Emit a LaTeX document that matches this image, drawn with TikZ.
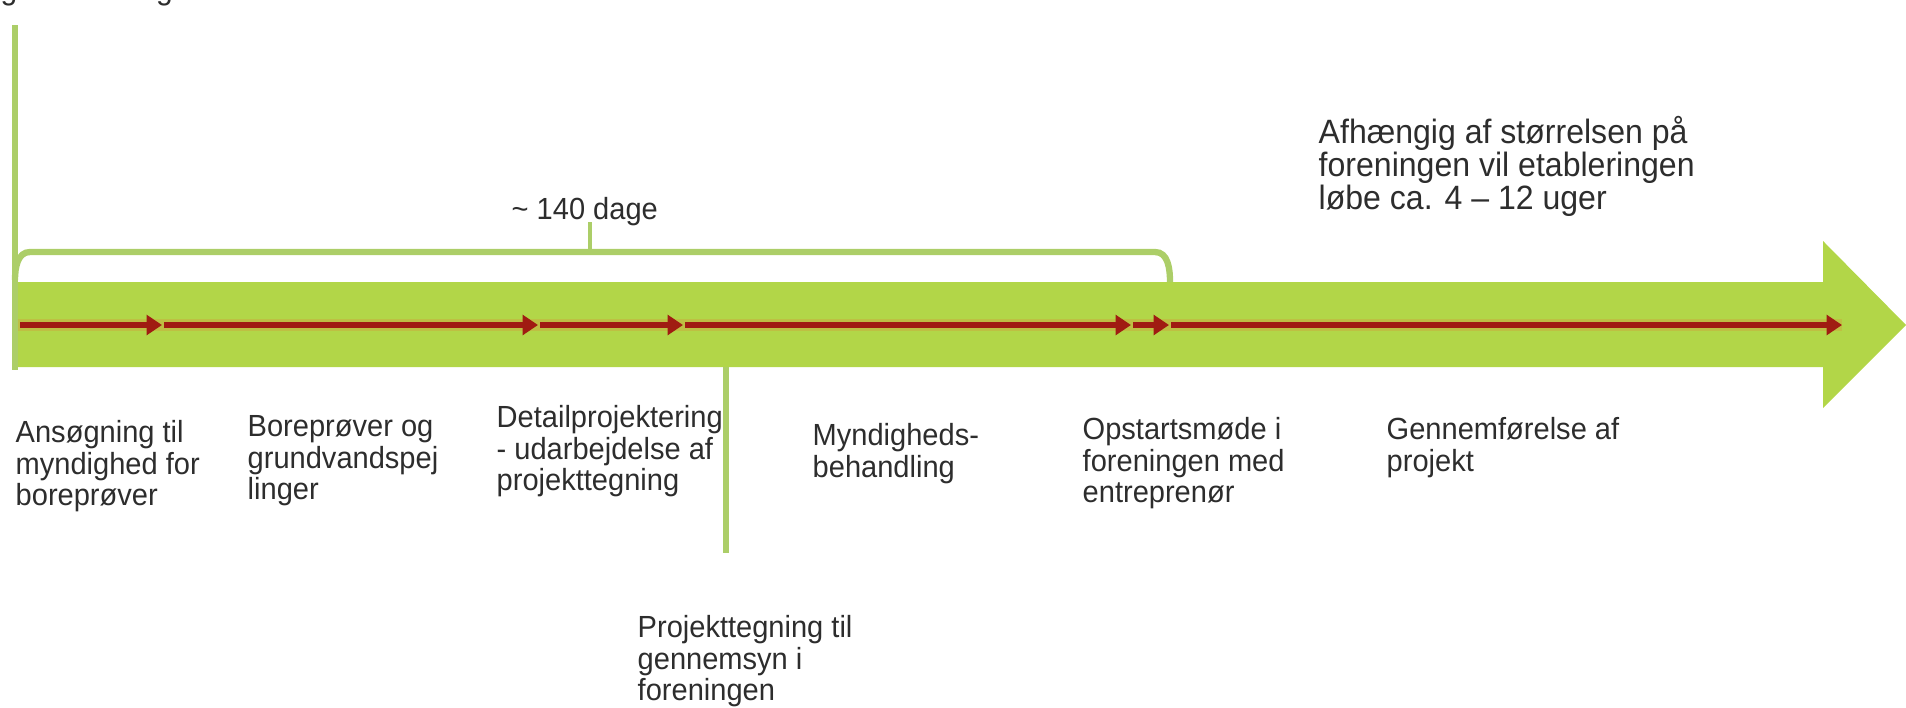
\documentclass[tikz,border=0pt]{standalone}
\usepackage{fontspec}
\setmainfont{Liberation Sans}[FakeStretch=0.95]
\usetikzlibrary{arrows.meta}
\definecolor{bargreen}{RGB}{178,214,72}
\definecolor{linegreen}{RGB}{172,206,104}
\definecolor{darkred}{RGB}{160,28,18}
\definecolor{glow}{RGB}{214,150,60}
\definecolor{txt}{RGB}{45,45,45}
\tikzset{bar/.style={fill=bargreen,draw=none},
 guide/.style={draw=linegreen,line width=1.5pt},
 redline/.style={draw=darkred,line width=1.8pt,-{Triangle[length=4.4pt,width=5.6pt]},shorten <=0.6pt},
 lbl/.style={anchor=north west,align=left,inner sep=0pt,text=txt,
   font=\fontsize{8.7}{8.9}\selectfont},
 biglbl/.style={lbl,font=\fontsize{9.6}{9.4}\selectfont},
 }

\begin{document}
\begin{tikzpicture}
    \useasboundingbox (0,0) rectangle (19.06,-7.07);
    % the big arrow
    \path[bar] (0.15,-2.82) -- (18.23,-2.82) -- (18.23,-2.41) -- (19.06,-3.25)
        -- (18.23,-4.08) -- (18.23,-3.67) -- (0.15,-3.67) -- cycle;
    % start line and bracket
    \coordinate (top) at (0.15,-0.25);
    \coordinate (foot) at (0.15,-3.70);
    \draw[guide] (top) -- (foot);
    \coordinate (brL) at (0.15,-2.80);
    \coordinate (brR) at (11.70,-2.82);
    \coordinate (brM) at (5.90,-2.52);
    \coordinate (brTip) at (5.90,-2.22);
    \draw[guide,line width=1.8pt] (brL) to[out=90,in=180] (0.30,-2.52) -- (11.55,-2.52)
        to[out=0,in=90] (brR);
    \draw[guide,line width=1pt] (brM) -- (brTip);
    % review line
    \coordinate (revTop) at (7.26,-3.67);
    \coordinate (revBot) at (7.26,-5.53);
    \draw[guide] (revTop) -- (revBot);
    % milestones on the red line
    \coordinate (p0) at (0.18,-3.25);
    \coordinate (p1) at (1.62,-3.25);
    \coordinate (p2) at (5.38,-3.25);
    \coordinate (p3) at (6.83,-3.25);
    \coordinate (p4) at (11.31,-3.25);
    \coordinate (p5) at (11.69,-3.25);
    \coordinate (p6) at (18.42,-3.25);
    \draw[glow,line width=3.4pt,opacity=.35] (p0) -- (p6);
    \foreach \a/\b in {p0/p1,p1/p2,p2/p3,p3/p4,p4/p5,p5/p6}
        \draw[redline] (\a) -- (\b);
    % texts
    \node[lbl,anchor=base west,font=\fontsize{9}{10}\selectfont] (topcut) at (0,0.01) {g behandling.};
    \node[lbl] (dage) at (5.11,-1.97) {\textasciitilde{} 140 dage};
    \node[biglbl] (afh) at (13.18,-1.16) {Afhængig af størrelsen på\\foreningen vil etableringen\\løbe ca. 4 -- 12 uger};
    \node[lbl] (ansog) at (0.15,-4.20) {Ansøgning til\\myndighed for\\boreprøver};
    \node[lbl] (bore) at (2.47,-4.15) {Boreprøver og\\grundvandspej\\linger};
    \node[lbl] (detail) at (4.96,-4.05) {Detailprojektering\\- udarbejdelse af\\projekttegning};
    \node[lbl] (myndig) at (8.12,-4.23) {Myndigheds-\\behandling};
    \node[lbl] (opstart) at (10.82,-4.17) {Opstartsmøde i\\foreningen med\\entreprenør};
    \node[lbl] (gennem) at (13.86,-4.17) {Gennemførelse af\\projekt};
    \node[lbl] (projteg) at (6.37,-6.15) {Projekttegning til\\gennemsyn i\\foreningen};
\end{tikzpicture}
\end{document}
